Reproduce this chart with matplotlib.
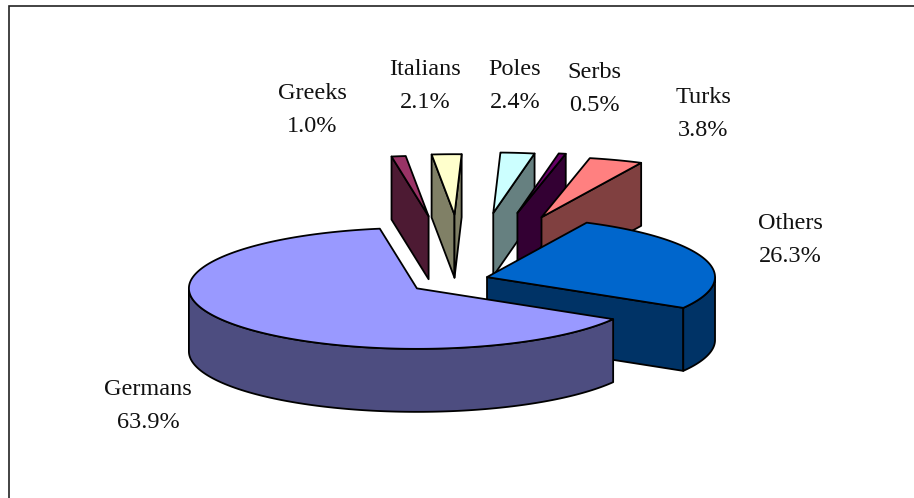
import numpy as np
import matplotlib
matplotlib.use('Agg')
import matplotlib.pyplot as plt

#data
names = ['Germans', 'Greeks', 'Italians', 'Poles', 'Serbs', 'Turks', 'Others']
shares = [63.9, 1.0, 2.1, 2.4, 0.5, 3.8, 26.3]
explode = [0.245, 1.08, 1.08, 1.08, 1.08, 1.08, 0.11]
tops = ['#9999FF', '#993366', '#FFFFCC', '#CCFFFF', '#660066', '#FF8080', '#0066CC']
sides = ['#4D4D80', '#4D1A33', '#808066', '#668080', '#330033', '#804040', '#003366']

#geometria em pixels
cx, cy = 462, 280
a, b = 228, 60.5
depth = 63
start = 120.6
draw_order = ['Italians', 'Greeks', 'Poles', 'Serbs', 'Turks', 'Others', 'Germans']
nudge = {'Germans': (1, 0), 'Greeks': (-1, 1), 'Italians': (1, 0), 'Poles': (5, -2), 'Serbs': (7, -3),
         'Turks': (-1, -1), 'Others': (1, -1)}
label_pos = {'Germans': (148, 405.5), 'Greeks': (312, 110), 'Italians': (425, 86),
             'Poles': (515, 86), 'Serbs': (594, 89), 'Turks': (703, 114), 'Others': (790, 240)}

fig = plt.figure(figsize=(9.14, 4.98), dpi=100)
ax = fig.add_axes([0, 0, 1, 1])
ax.set_xlim(0, 914)
ax.set_ylim(498, 0)
ax.axis('off')

#moldura (so em cima e na esquerda)
ax.plot([9, 9, 914], [498, 6, 6], color='#222222', lw=1.2, solid_joinstyle='miter')

lw = 1.3

def pt(x0, y0, th):
    return x0 + a*np.sin(th), y0 - b*np.cos(th)

def face(xs, ys, color, z):
    xs = list(xs) + list(xs)[::-1]
    ys = list(ys) + [y + depth for y in list(ys)[::-1]]
    ax.fill(xs, ys, facecolor=color, edgecolor='black', lw=lw, joinstyle='round', zorder=z)

#angulos de cada fatia (sentido horario, a partir do norte)
ends = np.cumsum(np.array(shares)*3.6)
th1 = np.radians(start + ends - np.array(shares)*3.6)
th2 = np.radians(start + ends)

for z, name in enumerate(draw_order):
    i = names.index(name)
    t1, t2 = th1[i], th2[i]
    mid = (t1 + t2)/2
    x0 = cx + explode[i]*a*np.sin(mid) + nudge[name][0]
    y0 = cy - explode[i]*b*np.cos(mid) + nudge[name][1]

    #faces radiais visiveis
    if np.sin(t1) < 0:
        x1, y1 = pt(x0, y0, t1)
        face([x0, x1], [y0, y1], sides[i], z*3 + 1)
    if np.sin(t2) > 0:
        x2, y2 = pt(x0, y0, t2)
        face([x0, x2], [y0, y2], sides[i], z*3 + 1)

    #parte de fora, so a metade da frente
    tt = np.linspace(t1, t2, 200)
    front = tt[np.cos(tt) < 0]
    if len(front) > 0:
        xs, ys = pt(x0, y0, front)
        face(xs, ys, sides[i], z*3 + 2)

    #topo
    xs, ys = pt(x0, y0, tt)
    ax.fill(np.r_[x0, xs], np.r_[y0, ys], facecolor=tops[i], edgecolor='black',
            lw=lw, joinstyle='round', zorder=z*3 + 3)

for name, share in zip(names, shares):
    x, y = label_pos[name]
    ax.text(x, y, '%s\n%.1f%%' % (name, share), ha='center', va='center', ma='center',
            family='Liberation Serif', fontsize=17.5, linespacing=1.75, color='#111111', zorder=50)

fig.savefig('out.png', dpi=100)
